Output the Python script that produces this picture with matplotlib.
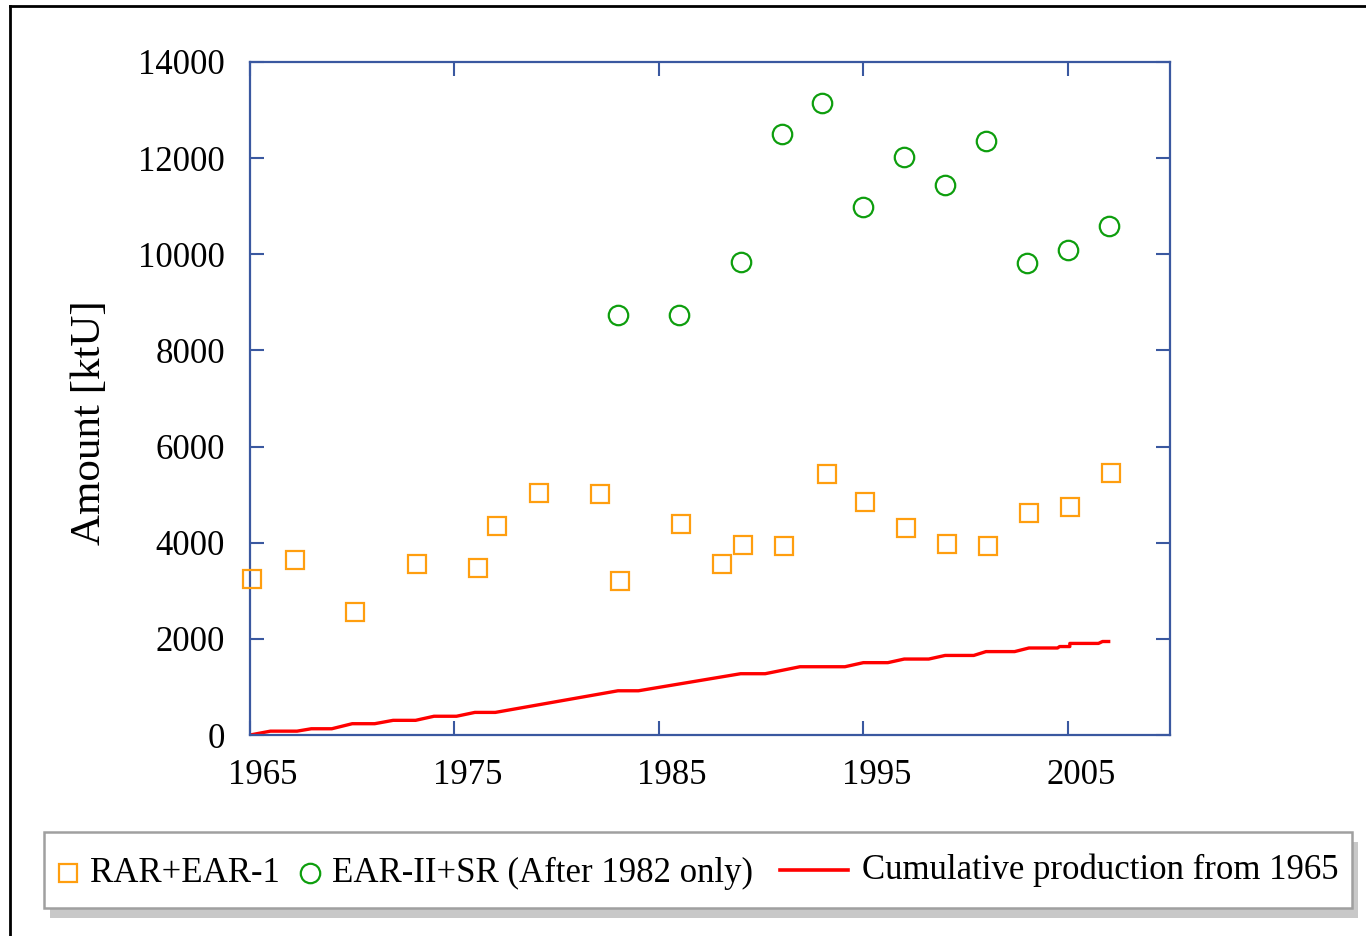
import matplotlib
matplotlib.use("Agg")
import matplotlib.pyplot as plt
import matplotlib.transforms as mtransforms
from matplotlib.lines import Line2D
from matplotlib.patches import Rectangle

plt.rcParams['font.family'] = ['Liberation Serif', 'DejaVu Serif']

# RAR+EAR-1 (squares)
rar_years = [1965.1, 1967.2, 1970.15, 1973.15, 1976.15, 1977.1, 1979.15, 1982.1, 1983.1,
             1986.1, 1988.1, 1989.1, 1991.1, 1993.2, 1995.1, 1997.1, 1999.1, 2001.1,
             2003.1, 2005.1, 2007.1]
rar_values = [3250, 3640, 2560, 3560, 3475, 4350, 5030, 5010, 3200, 4390, 3560,
              3950, 3930, 5430, 4850, 4305, 3970, 3930, 4620, 4740, 5450]

# EAR-II+SR (circles, after 1982 only)
ear_years = [1983, 1986, 1989, 1991, 1993, 1995, 1997, 1999, 2001, 2003, 2005, 2007]
ear_values = [8740, 8740, 9840, 12500, 13150, 10980, 12020, 11440, 12360, 9820, 10090, 10590]

# cumulative production from 1965 (line)
prod_years = [1965, 1966, 1967.3, 1968, 1969, 1970, 1971.1, 1972, 1973.1, 1974,
              1975.1, 1976, 1977, 1983, 1984, 1989, 1990.2, 1991.9, 1994.1, 1995,
              1996.2, 1997, 1998.2, 1999, 2000.4, 2001, 2002.4, 2003.1, 2004.5,
              2004.6, 2005.1, 2005.1, 2006.5, 2006.7, 2007]
prod_values = [0, 80, 80, 130, 130, 235, 235, 305, 305, 390,
               390, 470, 470, 920, 920, 1275, 1275, 1420, 1420, 1505,
               1505, 1580, 1580, 1655, 1655, 1735, 1735, 1810, 1810,
               1840, 1840, 1905, 1905, 1945, 1945]

legend_labels = ['RAR+EAR-1', 'EAR-II+SR (After 1982 only)', 'Cumulative production from 1965']

orange = '#FF9E0F'
green = '#0E9E0E'
red = '#FF0000'
blue = '#3A58A0'

W, H = 1366, 936
fig = plt.figure(figsize=(W / 100, H / 100), dpi=100)
ax = fig.add_axes([250 / W, 1 - 735 / H, 920 / W, 673 / H])

ax.plot(prod_years, prod_values, color=red, lw=2.4, zorder=2)
ax.plot(rar_years, rar_values, ls='none', marker='s', ms=13, mfc='none',
        mec=orange, mew=1.6, zorder=3, clip_on=False)
ax.plot(ear_years, ear_values, ls='none', marker='o', ms=14, mfc='none',
        mec=green, mew=1.6, zorder=3, clip_on=False)

ax.set_xlim(1965, 2010)
ax.set_ylim(0, 14000)
ax.set_xticks([1965, 1975, 1985, 1995, 2005])
ax.set_yticks(range(0, 14001, 2000))

for s in ax.spines.values():
    s.set_color(blue)
    s.set_linewidth(1.6)
ax.tick_params(direction='in', length=10, width=1.5, color=blue,
               top=True, right=True, labelsize=25, labelcolor='black')
ax.tick_params(axis='y', pad=18)
ax.tick_params(axis='x', pad=17)

# x labels sit a bit right of their ticks in the original
shift = mtransforms.ScaledTranslation(13 / 100, 0, fig.dpi_scale_trans)
for lab in ax.get_xticklabels():
    lab.set_transform(lab.get_transform() + shift)

fig.text(90 / W, 1 - 423 / H, 'Amount [ktU]', rotation=90, fontsize=31,
         ha='center', va='center')

# outer frame (only left and top visible)
fig.add_artist(Line2D([10 / W, 10 / W], [0, 1 - 6 / H], color='black', lw=2))
fig.add_artist(Line2D([10 / W, 1], [1 - 6 / H, 1 - 6 / H], color='black', lw=2))

# legend box with shadow
fig.add_artist(Rectangle((50 / W, 1 - 918 / H), 1308 / W, 76 / H,
                         transform=fig.transFigure, facecolor='#c8c8c8',
                         edgecolor='none', zorder=1))
fig.add_artist(Rectangle((44 / W, 1 - 908 / H), 1308 / W, 76 / H,
                         transform=fig.transFigure, facecolor='white',
                         edgecolor='#a0a0a0', lw=1.8, zorder=2))

ly = 1 - 873 / H
fig.add_artist(Line2D([68 / W], [ly], ls='none', marker='s', ms=13, mfc='none',
                      mec=orange, mew=1.6, zorder=3))
fig.text(90 / W, ly, legend_labels[0], fontsize=25, va='center', ha='left', zorder=3)
fig.add_artist(Line2D([310 / W], [ly], ls='none', marker='o', ms=14, mfc='none',
                      mec=green, mew=1.6, zorder=3))
fig.text(332 / W, ly, legend_labels[1], fontsize=25, va='center', ha='left', zorder=3)
fig.add_artist(Line2D([780 / W, 848 / W], [ly + 3 / H, ly + 3 / H], color=red,
                      lw=2.6, zorder=3))
fig.text(862 / W, ly + 3 / H, legend_labels[2], fontsize=25, va='center', ha='left', zorder=3)

fig.savefig('out.png', dpi=100)
